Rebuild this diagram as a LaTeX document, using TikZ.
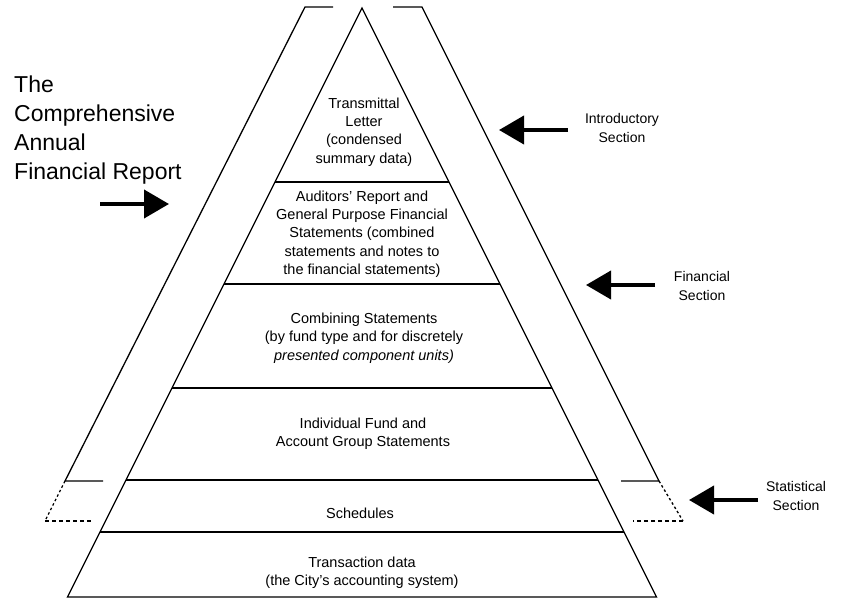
\documentclass[tikz,border=0pt]{standalone}
\usepackage{fontspec}
\setmainfont{Liberation Sans}
\usetikzlibrary{arrows.meta}
\begin{document}
\begin{tikzpicture}[x=1pt,y=-1pt,
  edge/.style={line width=1.3pt,line join=miter},
  dotline/.style={line width=1.3pt,dash pattern=on 2.5pt off 2.5pt},
  dashline/.style={line width=1.3pt,dash pattern=on 4pt off 3pt},
  sidearrow/.style={line width=4pt,-{Triangle[length=25pt,width=28pt]}},
  boxtext/.style={align=center,font=\fontsize{14.5}{18.3}\selectfont,inner sep=0pt},
  sidetext/.style={align=center,font=\fontsize{14}{18.5}\selectfont,inner sep=0pt},
  titletext/.style={align=left,font=\fontsize{23}{29}\selectfont,inner sep=0pt}
]
\useasboundingbox (0,0) rectangle (841,599);
% pyramid
\coordinate (apex) at (362,8);
\coordinate (bl) at (67.5,597);
\coordinate (br) at (656.5,597);
\draw[edge] (apex) -- (bl) -- (br) -- cycle;
\coordinate (l1) at (275,182);   \coordinate (r1) at (449,182);
\coordinate (l2) at (224,284);   \coordinate (r2) at (500,284);
\coordinate (l3) at (172,388);   \coordinate (r3) at (552,388);
\coordinate (l4) at (126,480);   \coordinate (r4) at (598,480);
\coordinate (l5) at (100,532);   \coordinate (r5) at (624,532);
\foreach \i in {1,...,5} \draw[edge] (l\i) -- (r\i);
% outer bands
\coordinate (lcapin) at (333,7);
\coordinate (lcap) at (305,7);
\coordinate (lfoot) at (65,481);
\coordinate (lfootin) at (103,481);
\coordinate (ldash) at (45,521);
\coordinate (ldashin) at (93,521);
\draw[edge] (lcapin) -- (lcap) -- (lfoot) -- (lfootin);
\draw[dotline] (lfoot) -- (ldash);
\draw[dashline] (ldash) -- (ldashin);
\coordinate (rcapin) at (393,7);
\coordinate (rcap) at (422,7);
\coordinate (rfoot) at (659,481);
\coordinate (rfootin) at (621,481);
\coordinate (rdash) at (683,521);
\coordinate (rdashin) at (633,521);
\draw[edge] (rcapin) -- (rcap) -- (rfoot) -- (rfootin);
\draw[dotline] (rfoot) -- (rdash);
\draw[dashline] (rdash) -- (rdashin);
% pyramid texts
\node[boxtext] (t1) at (364,132) {Transmittal\\Letter\\(condensed\\summary data)};
\node[boxtext] (t2) at (362,234) {Auditors' Report and\\General Purpose Financial\\Statements (combined\\statements and notes to\\the financial statements)};
\node[boxtext] (t3) at (364,338) {Combining Statements\\(by fund type and for discretely\\\itshape presented component units)};
\node[boxtext] (t4) at (363,434) {Individual Fund and\\Account Group Statements};
\node[boxtext] (t5) at (360,513) {Schedules};
\node[boxtext] (t6) at (362,573) {Transaction data\\(the City's accounting system)};
% title
\node[titletext,anchor=west] (title) at (14,130) {The\\Comprehensive\\Annual\\Financial Report};
\coordinate (ta0) at (100,204);
\coordinate (ta1) at (169,204);
\draw[sidearrow] (ta0) -- (ta1);
% side labels
\node[sidetext] (intro) at (622,128) {Introductory\\Section};
\coordinate (ia0) at (568,130);
\coordinate (ia1) at (499,130);
\draw[sidearrow] (ia0) -- (ia1);
\node[sidetext] (fin) at (702,286) {Financial\\Section};
\coordinate (fa0) at (655,285);
\coordinate (fa1) at (586,285);
\draw[sidearrow] (fa0) -- (fa1);
\node[sidetext] (stat) at (796,496) {Statistical\\Section};
\coordinate (sa0) at (758,500);
\coordinate (sa1) at (689,500);
\draw[sidearrow] (sa0) -- (sa1);
\end{tikzpicture}
\end{document}
